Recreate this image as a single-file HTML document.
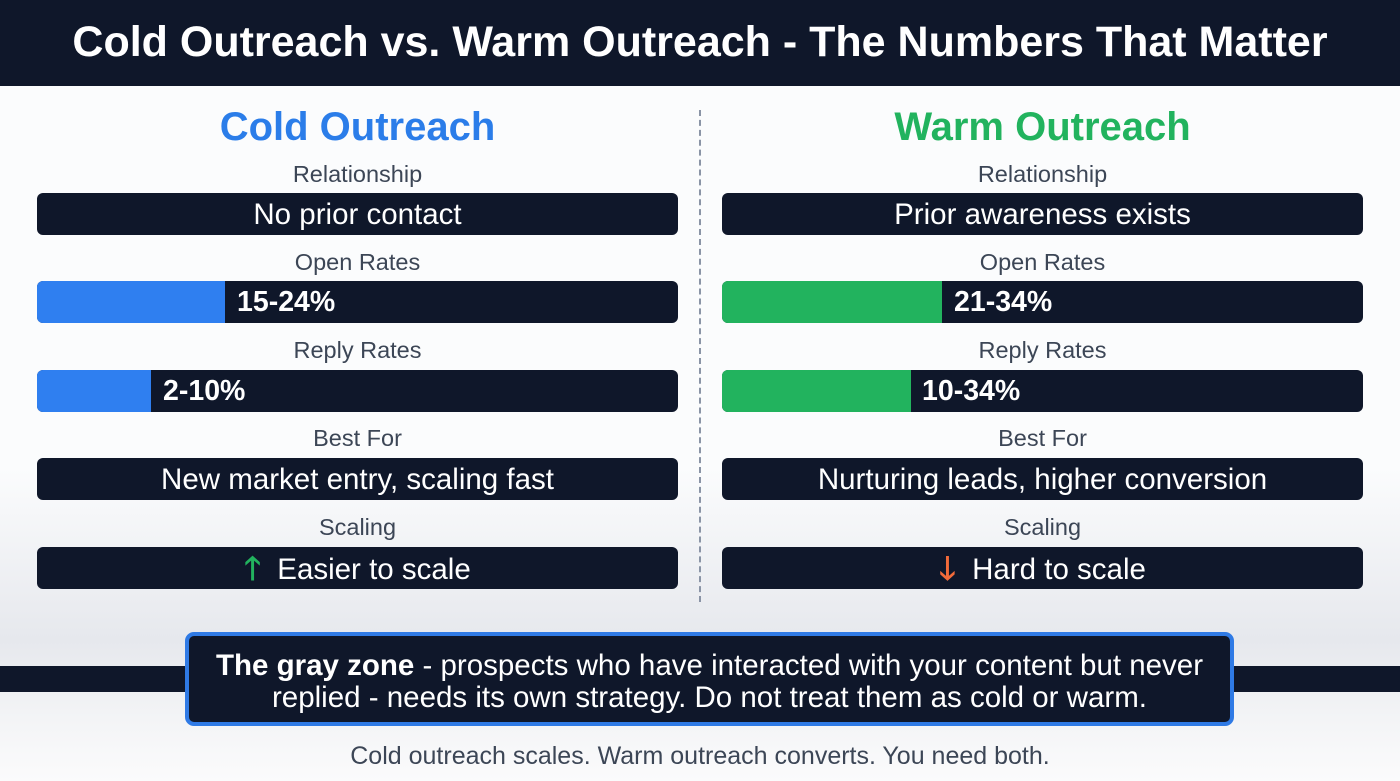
<!DOCTYPE html>
<html><head><style>
*{margin:0;padding:0;box-sizing:border-box}
body{width:1400px;height:781px;position:relative;overflow:hidden;font-family:"Liberation Sans",sans-serif;background:linear-gradient(#fbfcfd 0%,#fbfcfd 60%,#e6e8ed 82%,#f3f4f6 92%,#fbfbfc 100%)}
.hdr{position:absolute;left:0;top:0;width:1400px;height:86px;background:#0f172a;color:#fff;font-weight:bold;font-size:43px;text-align:center;line-height:84px;white-space:nowrap}
.h{position:absolute;font-weight:bold;font-size:40px;text-align:center;width:641px;top:104px;line-height:46px}
.lb{position:absolute;width:641px;text-align:center;font-size:23.5px;color:#3c4656;line-height:26px}
.bar{position:absolute;width:641px;height:42px;background:#0f172a;border-radius:6px;overflow:hidden;color:#fff;font-size:29.5px;line-height:43px;white-space:nowrap}
.fill{position:absolute;left:0;top:0;height:42px}
.c{text-align:center}
.v{position:absolute;top:0;font-weight:bold;font-size:28.5px}
.div{position:absolute;left:699px;top:110px;height:492px;border-left:2px dashed #8a94a6}
.band{position:absolute;left:0;top:666px;width:1400px;height:26px;background:#0f172a}
.box{position:absolute;left:185px;top:632px;width:1049px;height:94px;background:#0f172a;border:4px solid #2f7ae5;border-radius:9px;color:#fff;font-size:29.5px;text-align:center;line-height:32px;padding-top:14px;white-space:nowrap}
.ft{position:absolute;top:742px;width:1400px;text-align:center;font-size:25px;color:#3c4656}
.ar{font-weight:bold;font-size:32px}
</style></head><body>
<div class="hdr">Cold Outreach vs. Warm Outreach - The Numbers That Matter</div>
<div class="h" style="left:37px;color:#2b7de9">Cold Outreach</div>
<div class="h" style="left:722px;color:#22b35e">Warm Outreach</div>
<div class="div"></div>

<div class="lb" style="left:37px;top:161px">Relationship</div>
<div class="bar c" style="left:37px;top:193px">No prior contact</div>
<div class="lb" style="left:37px;top:249px">Open Rates</div>
<div class="bar" style="left:37px;top:281px"><div class="fill" style="width:188px;background:#2f7ff0"></div><span class="v" style="left:200px">15-24%</span></div>
<div class="lb" style="left:37px;top:337px">Reply Rates</div>
<div class="bar" style="left:37px;top:370px"><div class="fill" style="width:114px;background:#2f7ff0"></div><span class="v" style="left:126px">2-10%</span></div>
<div class="lb" style="left:37px;top:425px">Best For</div>
<div class="bar c" style="left:37px;top:458px">New market entry, scaling fast</div>
<div class="lb" style="left:37px;top:514px">Scaling</div>
<div class="bar c" style="left:37px;top:547px"><span class="ar" style="color:#22b35e">🡑</span>&nbsp; Easier to scale</div>

<div class="lb" style="left:722px;top:161px">Relationship</div>
<div class="bar c" style="left:722px;top:193px">Prior awareness exists</div>
<div class="lb" style="left:722px;top:249px">Open Rates</div>
<div class="bar" style="left:722px;top:281px"><div class="fill" style="width:220px;background:#22b35e"></div><span class="v" style="left:232px">21-34%</span></div>
<div class="lb" style="left:722px;top:337px">Reply Rates</div>
<div class="bar" style="left:722px;top:370px"><div class="fill" style="width:189px;background:#22b35e"></div><span class="v" style="left:200px">10-34%</span></div>
<div class="lb" style="left:722px;top:425px">Best For</div>
<div class="bar c" style="left:722px;top:458px">Nurturing leads, higher conversion</div>
<div class="lb" style="left:722px;top:514px">Scaling</div>
<div class="bar c" style="left:722px;top:547px"><span class="ar" style="color:#f26b3a">🡓</span>&nbsp; Hard to scale</div>

<div class="band"></div>
<div class="box"><b>The gray zone</b> - prospects who have interacted with your content but never<br>replied - needs its own strategy. Do not treat them as cold or warm.</div>
<div class="ft">Cold outreach scales. Warm outreach converts. You need both.</div>
</body></html>
